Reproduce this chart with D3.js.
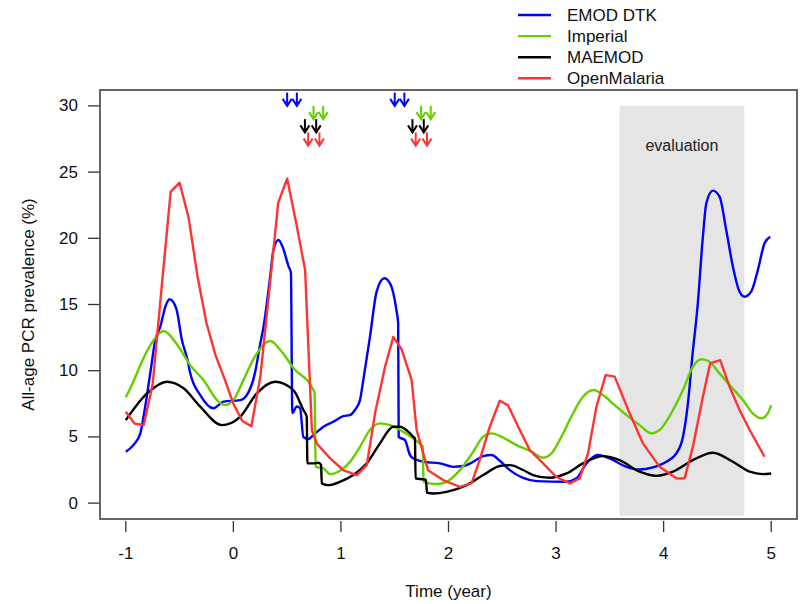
<!DOCTYPE html>
<html>
<head>
<meta charset="utf-8">
<script src="https://cdn.jsdelivr.net/npm/d3@7"></script>
<style>
  body { margin: 0; background: #fff; }
  svg { display: block; font-family: "Liberation Sans", Arial, sans-serif; }
</style>
</head>
<body>
<div id="chart"></div>
<script>
// data //
const seriesNames = ['EMOD DTK', 'Imperial', 'MAEMOD', 'OpenMalaria']
const seriesColors = ['#0000ff', '#66cd00', '#000000', '#ff3333']

const emodTime = [-1.0, -0.93, -0.865, -0.82, -0.773, -0.726, -0.68, -0.63, -0.593, -0.531, -0.478, -0.426, -0.401, -0.308, -0.185, -0.092, 0.063, 0.125, 0.2, 0.249, 0.28, 0.342, 0.372, 0.419, 0.46, 0.512, 0.535, 0.548, 0.59, 0.62, 0.651, 0.697, 0.744, 0.837, 0.929, 1.022, 1.084, 1.13, 1.177, 1.208, 1.27, 1.332, 1.403, 1.456, 1.518, 1.532, 1.537, 1.595, 1.642, 1.672, 1.765, 1.92, 2.044, 2.137, 2.23, 2.322, 2.4, 2.477, 2.57, 2.694, 2.818, 3.097, 3.19, 3.282, 3.39, 3.498, 3.654, 3.777, 3.9, 4.025, 4.118, 4.18, 4.226, 4.266, 4.318, 4.365, 4.397, 4.458, 4.52, 4.582, 4.644, 4.706, 4.752, 4.814, 4.876, 4.938, 4.991]
const emodValue = [3.88, 4.38, 5.27, 7.28, 9.8, 12.3, 13.3, 14.9, 15.4, 14.7, 12.3, 10.8, 9.8, 8.16, 7.16, 7.66, 7.78, 8.16, 9.8, 12.0, 13.3, 17.1, 19.1, 19.87, 19.3, 17.9, 17.4, 6.8, 7.3, 7.18, 4.99, 4.84, 5.14, 5.77, 6.14, 6.57, 6.65, 7.03, 7.78, 9.3, 12.57, 15.97, 16.98, 16.6, 14.46, 13.6, 5.0, 4.76, 3.63, 3.38, 3.12, 3.0, 2.74, 2.8, 3.12, 3.55, 3.63, 3.2, 2.49, 1.9, 1.66, 1.61, 1.87, 3.0, 3.63, 3.38, 2.74, 2.54, 2.7, 3.12, 3.75, 5.01, 7.53, 11.0, 15.09, 20.12, 22.65, 23.6, 23.15, 20.63, 17.86, 15.97, 15.59, 15.97, 17.6, 19.62, 20.12]

const imperialTime = [-1.0, -0.93, -0.85, -0.742, -0.649, -0.525, -0.4, -0.278, -0.138, -0.076, 0.0, 0.094, 0.2, 0.342, 0.45, 0.558, 0.744, 0.755, 0.765, 0.837, 0.899, 0.976, 1.084, 1.177, 1.27, 1.363, 1.456, 1.579, 1.672, 1.75, 1.76, 1.768, 1.889, 1.982, 2.106, 2.23, 2.322, 2.4, 2.508, 2.632, 2.77, 2.879, 2.957, 3.05, 3.158, 3.25, 3.35, 3.436, 3.545, 3.654, 3.777, 3.886, 3.963, 4.087, 4.18, 4.272, 4.35, 4.411, 4.52, 4.613, 4.737, 4.829, 4.907, 4.968, 5.0]
const imperialValue = [7.99, 9.17, 10.7, 12.3, 13.0, 12.0, 10.4, 9.3, 7.66, 7.4, 7.78, 9.3, 11.06, 12.24, 11.43, 10.2, 8.54, 8.3, 2.74, 2.62, 2.19, 2.37, 3.12, 4.25, 5.52, 6.02, 5.89, 5.39, 4.89, 4.38, 4.3, 1.61, 1.44, 1.61, 2.49, 3.88, 5.01, 5.27, 4.95, 4.38, 3.9, 3.43, 3.75, 5.01, 6.78, 8.03, 8.54, 8.16, 7.4, 6.65, 5.89, 5.27, 5.52, 7.03, 8.54, 10.3, 10.86, 10.75, 9.8, 8.92, 7.78, 6.78, 6.4, 6.78, 7.4]

const maemodTime = [-1.0, -0.8, -0.617, -0.463, -0.308, -0.107, 0.063, 0.218, 0.388, 0.558, 0.651, 0.682, 0.688, 0.744, 0.79, 0.815, 0.822, 0.883, 0.99, 1.115, 1.24, 1.363, 1.487, 1.549, 1.642, 1.672, 1.688, 1.694, 1.765, 1.79, 1.8, 1.858, 1.982, 2.168, 2.322, 2.477, 2.57, 2.694, 2.786, 2.941, 3.097, 3.25, 3.436, 3.591, 3.777, 3.932, 4.087, 4.272, 4.458, 4.644, 4.8, 4.922, 5.0]
const maemodValue = [6.27, 8.3, 9.17, 8.67, 7.28, 5.89, 6.52, 8.29, 9.17, 8.54, 7.03, 6.52, 3.0, 3.0, 3.05, 2.9, 1.49, 1.36, 1.61, 2.12, 3.0, 4.51, 5.77, 5.77, 5.27, 5.01, 4.9, 1.87, 1.79, 1.75, 0.78, 0.73, 0.85, 1.36, 2.12, 2.8, 2.87, 2.5, 2.12, 1.91, 2.24, 3.0, 3.55, 3.25, 2.37, 2.06, 2.37, 3.25, 3.8, 3.12, 2.37, 2.19, 2.24]

const openMalariaTime = [-1.0, -0.917, -0.833, -0.75, -0.667, -0.583, -0.5, -0.417, -0.333, -0.25, -0.167, -0.083, 0.0, 0.083, 0.167, 0.25, 0.333, 0.417, 0.5, 0.583, 0.667, 0.73, 0.775, 0.9, 1.02, 1.147, 1.24, 1.317, 1.41, 1.487, 1.565, 1.657, 1.704, 1.81, 1.95, 2.106, 2.214, 2.29, 2.384, 2.477, 2.554, 2.663, 2.756, 2.88, 3.0, 3.127, 3.22, 3.297, 3.375, 3.461, 3.545, 3.684, 3.808, 3.963, 4.118, 4.195, 4.272, 4.365, 4.433, 4.526, 4.613, 4.706, 4.8, 4.938]
const openMalariaValue = [6.9, 6.0, 5.9, 9.0, 16.3, 23.5, 24.2, 21.6, 17.1, 13.6, 11.2, 9.4, 7.5, 6.2, 5.8, 9.5, 16.0, 22.7, 24.5, 21.2, 17.6, 5.5, 4.5, 3.38, 2.5, 2.12, 2.87, 6.78, 10.3, 12.55, 11.6, 9.3, 5.5, 2.49, 1.74, 1.23, 1.49, 3.25, 5.77, 7.73, 7.38, 5.52, 4.0, 3.0, 1.99, 1.49, 1.87, 3.75, 7.28, 9.67, 9.55, 6.78, 4.51, 2.74, 1.87, 1.87, 4.25, 8.03, 10.56, 10.8, 8.79, 7.03, 5.52, 3.5]

// intervention arrows: times, arrow tip level per model
const emodArrows = [0.5, 0.59, 1.5, 1.59]
const imperialArrows = [0.745, 0.835, 1.745, 1.835]
const maemodArrows = [0.665, 0.77, 1.665, 1.77]
const openMalariaArrows = [0.695, 0.8, 1.695, 1.8]
const arrowTips = [30, 29, 28, 27]

const xTicks = [-1, 0, 1, 2, 3, 4, 5]
const yTicks = [0, 5, 10, 15, 20, 25, 30]
const evaluationWindow = [3.59, 4.75]

// svg //
const width = 802
const height = 604
const plot = { left: 100, right: 797, top: 90, bottom: 519 }

const svg = d3.select('#chart').append('svg')
  .attr('width', width)
  .attr('height', height)

const x = d3.scaleLinear().domain([-1.24, 5.24]).range([plot.left, plot.right])
const y = d3.scaleLinear().domain([-1.2, 31.2]).range([plot.bottom, plot.top])

// evaluation window
svg.append('rect')
  .attr('x', x(evaluationWindow[0]))
  .attr('y', y(30))
  .attr('width', x(evaluationWindow[1]) - x(evaluationWindow[0]))
  .attr('height', y(-0.95) - y(30))
  .attr('fill', '#e5e5e5')

svg.append('text')
  .attr('x', x(d3.mean(evaluationWindow)))
  .attr('y', y(27))
  .attr('text-anchor', 'middle')
  .attr('dominant-baseline', 'central')
  .style('font-size', '16px')
  .attr('fill', '#222')
  .text('evaluation')

// lines //
const series = [
  { time: emodTime, value: emodValue, curve: d3.curveMonotoneX },
  { time: imperialTime, value: imperialValue, curve: d3.curveMonotoneX },
  { time: maemodTime, value: maemodValue, curve: d3.curveMonotoneX },
  { time: openMalariaTime, value: openMalariaValue, curve: d3.curveLinear }
]

const clip = svg.append('clipPath').attr('id', 'plot-clip')
  .append('rect')
  .attr('x', plot.left).attr('y', plot.top)
  .attr('width', plot.right - plot.left).attr('height', plot.bottom - plot.top)

const lines = svg.append('g').attr('clip-path', 'url(#plot-clip)')

series.forEach((s, i) => {
  const pts = s.time.map((t, j) => [t, s.value[j]])
  const line = d3.line()
    .x(d => x(d[0]))
    .y(d => y(d[1]))
    .curve(s.curve)
  lines.append('path')
    .datum(pts)
    .attr('d', line)
    .attr('fill', 'none')
    .attr('stroke', seriesColors[i])
    .attr('stroke-width', 2.4)
    .attr('stroke-linejoin', 'round')
})

// arrows //
const arrowSets = [emodArrows, imperialArrows, maemodArrows, openMalariaArrows]
arrowSets.forEach((set, i) => {
  const g = svg.append('g')
    .attr('stroke', seriesColors[i])
    .attr('stroke-width', 2)
    .attr('fill', 'none')
  set.forEach(t => {
    const px = x(t)
    const tip = y(arrowTips[i])
    const tail = y(arrowTips[i] + 1)
    g.append('line')
      .attr('x1', px).attr('x2', px)
      .attr('y1', tail).attr('y2', tip)
    g.append('path')
      .attr('d', `M${px - 4.5},${tip - 7}L${px},${tip}L${px + 4.5},${tip - 7}`)
  })
})

// axes //
const xAxis = svg.append('g')
xAxis.selectAll('line')
  .data(xTicks)
  .enter()
  .append('line')
  .attr('x1', d => x(d)).attr('x2', d => x(d))
  .attr('y1', plot.bottom + 2).attr('y2', plot.bottom + 13)
  .attr('stroke', '#333')
  .attr('stroke-width', 1.3)
xAxis.selectAll('text')
  .data(xTicks)
  .enter()
  .append('text')
  .attr('x', d => x(d))
  .attr('y', 553)
  .attr('text-anchor', 'middle')
  .attr('dominant-baseline', 'central')
  .style('font-size', '17px')
  .attr('fill', '#111')
  .text(d => d)

const yAxis = svg.append('g')
yAxis.selectAll('line')
  .data(yTicks)
  .enter()
  .append('line')
  .attr('x1', plot.left - 12).attr('x2', plot.left)
  .attr('y1', d => y(d)).attr('y2', d => y(d))
  .attr('stroke', '#333')
  .attr('stroke-width', 1.3)
yAxis.selectAll('text')
  .data(yTicks)
  .enter()
  .append('text')
  .attr('x', 78)
  .attr('y', d => y(d))
  .attr('text-anchor', 'end')
  .attr('dominant-baseline', 'central')
  .style('font-size', '17px')
  .attr('fill', '#111')
  .text(d => d)

// box
svg.append('rect')
  .attr('x', plot.left).attr('y', plot.top)
  .attr('width', plot.right - plot.left).attr('height', plot.bottom - plot.top)
  .attr('fill', 'none')
  .attr('stroke', '#555')
  .attr('stroke-width', 1.8)

// axis titles
svg.append('text')
  .attr('x', (x(-1) + x(5)) / 2)
  .attr('y', 591)
  .attr('text-anchor', 'middle')
  .attr('dominant-baseline', 'central')
  .style('font-size', '17px')
  .attr('fill', '#111')
  .text('Time (year)')

svg.append('text')
  .attr('transform', `translate(28, ${(y(0) + y(30)) / 2}) rotate(-90)`)
  .attr('text-anchor', 'middle')
  .attr('dominant-baseline', 'central')
  .style('font-size', '17px')
  .attr('fill', '#111')
  .text('All-age PCR prevalence (%)')

// legend //
const legend = svg.append('g').attr('transform', 'translate(518, 15)')
legend.selectAll('line')
  .data(seriesNames)
  .enter()
  .append('line')
  .attr('x1', 0).attr('x2', 33)
  .attr('y1', (d, i) => i * 21.1).attr('y2', (d, i) => i * 21.1)
  .attr('stroke', (d, i) => seriesColors[i])
  .attr('stroke-width', 2.4)
legend.selectAll('text')
  .data(seriesNames)
  .enter()
  .append('text')
  .attr('x', 49)
  .attr('y', (d, i) => i * 21.1)
  .attr('dominant-baseline', 'central')
  .style('font-size', '17px')
  .attr('fill', '#111')
  .text(d => d)
</script>
</body>
</html>
